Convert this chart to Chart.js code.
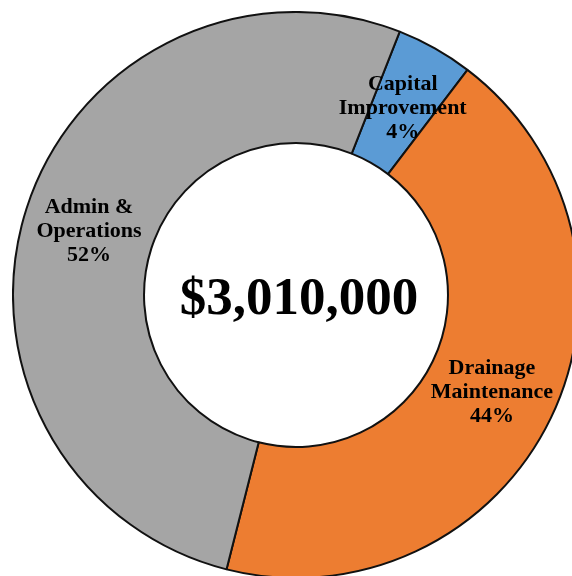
<!DOCTYPE html>
<html>
<head>
<meta charset="utf-8">
<script src="https://cdn.jsdelivr.net/npm/chart.js@4"></script>
<style>
  html, body { margin: 0; padding: 0; background: #fff; overflow: hidden; width: 572px; height: 576px; }
  #budget { position: absolute; left: 12px; top: 11px; }
</style>
</head>
<body>
<canvas id="budget" width="568" height="568"></canvas>
<script>
// Budget split (labels broken into lines as on the chart)
const categories = [["Capital", "Improvement"], ["Drainage", "Maintenance"], ["Admin &", "Operations"]]
const amounts = [132000, 1312000, 1566000]
const colors = ["#5B9BD5", "#ED7D31", "#A5A5A5"]
const totalLabel = "$3,010,000"

const total = amounts.reduce((a, b) => a + b, 0)

// Text inside the slices and in the middle
const labelPlugin = {
  id: "sliceLabels",
  afterDatasetsDraw(chart) {
    const ctx = chart.ctx
    const meta = chart.getDatasetMeta(0)
    ctx.save()
    ctx.fillStyle = "#000"
    ctx.textAlign = "center"
    ctx.textBaseline = "middle"
    ctx.font = "bold 22px 'Liberation Serif', 'Times New Roman', serif"
    meta.data.forEach((arc, i) => {
      const pos = arc.tooltipPosition()
      const lines = categories[i].concat([Math.round((amounts[i] / total) * 100) + "%"])
      const lh = 24
      const y0 = pos.y + 3 - ((lines.length - 1) * lh) / 2
      lines.forEach((t, j) => ctx.fillText(t, pos.x, y0 + j * lh))
    })
    const arc0 = meta.data[0]
    ctx.font = "bold 53px 'Liberation Serif', 'Times New Roman', serif"
    ctx.fillText(totalLabel, arc0.x + 3, arc0.y + 5)
    ctx.restore()
  },
}

new Chart(document.getElementById("budget"), {
  type: "doughnut",
  data: {
    labels: categories,
    datasets: [
      {
        data: amounts,
        backgroundColor: colors,
        borderColor: "#111",
        borderWidth: 2,
      },
    ],
  },
  options: {
    responsive: false,
    animation: false,
    rotation: 21.5,
    cutout: "53.7%",
    layout: { padding: 0 },
    plugins: {
      legend: { display: false },
      tooltip: { enabled: false },
    },
  },
  plugins: [labelPlugin],
})
</script>
</body>
</html>
